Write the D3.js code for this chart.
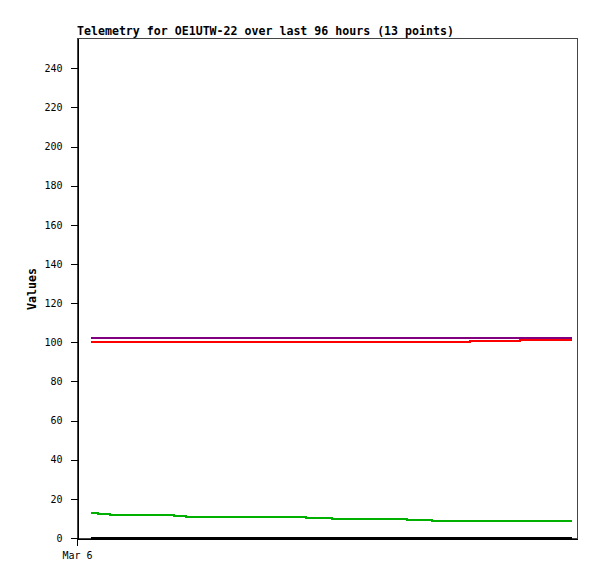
<!DOCTYPE html>
<html>
<head>
<meta charset="utf-8">
<script src="https://cdn.jsdelivr.net/npm/d3@7"></script>
<style>
  body { margin: 0; background: #fff; }
  svg { font-family: "DejaVu Sans Mono", monospace; }
  .axis text { font-size: 10px; fill: #000; font-family: "DejaVu Sans Mono", monospace; }
  .axis line, .axis path { stroke: #000; shape-rendering: crispEdges; }
</style>
</head>
<body>
<svg width="597" height="579"></svg>
<script>
// hours after Mar 6 00:00 for each telemetry point
var hours = [2.7, 4.0, 6.3, 18.6, 20.9, 33.2, 44.0, 49.0, 63.4, 68.2, 75.5, 85.1, 95.0];
var ch1 = [0, 0, 0, 0, 0, 0, 0, 0, 0, 0, 0, 0, 0];
var ch2 = [13.0, 12.3, 11.7, 11.1, 10.6, 10.6, 10.1, 9.6, 9.0, 8.5, 8.5, 8.5, 8.5];
var ch3 = [100.2, 100.2, 100.2, 100.2, 100.2, 100.2, 100.2, 100.2, 100.2, 100.2, 100.8, 101.4, 101.4];
var ch4 = [102.4, 102.4, 102.4, 102.4, 102.4, 102.4, 102.4, 102.4, 102.4, 102.4, 102.4, 102.4, 102.4];
var yTicks = [0, 20, 40, 60, 80, 100, 120, 140, 160, 180, 200, 220, 240];
var seriesColors = ["#000000", "#00b000", "#ff0000", "#800080"];

var start = new Date(2024, 2, 6, 0, 0);
var end = new Date(2024, 2, 10, 0, 0);

var svg = d3.select("svg"),
    margin = {top: 38, right: 20, bottom: 41, left: 77},
    width = 500,
    height = 500,
    g = svg.append("g").attr("transform", "translate(" + margin.left + "," + margin.top + ")");

var x = d3.scaleTime().domain([start, end]).range([0, width]);
var y = d3.scaleLinear().domain([0, 255.5]).range([height, 0]);

var toDate = function (h) { return new Date(start.getTime() + h * 3600 * 1000); };

// frame
g.append("rect")
    .attr("x", 0.5).attr("y", 0.5)
    .attr("width", width).attr("height", height)
    .attr("fill", "none")
    .attr("stroke", "#444")
    .attr("shape-rendering", "crispEdges");

var line = d3.line()
    .curve(d3.curveStepAfter)
    .x(function (d) { return x(toDate(d[0])); })
    .y(function (d) { return y(d[1]); });

g.append("g")
    .attr("class", "axis axis--y")
    .attr("transform", "translate(0.5,0)")
    .call(d3.axisLeft(y).tickValues(yTicks).tickSize(7).tickSizeOuter(0).tickPadding(8))
    .attr("font-family", null);

g.append("g")
    .attr("class", "axis axis--x")
    .attr("transform", "translate(0," + (height + 0.5) + ")")
    .call(d3.axisBottom(x).tickValues([start]).tickSize(7).tickSizeOuter(0).tickPadding(6)
      .tickFormat(d3.timeFormat("%b %-d")))
    .attr("font-family", null);

[ch3, ch4, ch2, ch1].forEach(function (vals) {
  var i = [ch1, ch2, ch3, ch4].indexOf(vals);
  g.append("path")
      .datum(hours.map(function (h, k) { return [h, vals[k]]; }))
      .attr("fill", "none")
      .attr("stroke", seriesColors[i])
      .attr("stroke-width", 2)
      .attr("shape-rendering", "crispEdges")
      .attr("d", line);
});

svg.append("text")
    .attr("x", 77)
    .attr("y", 35)
    .style("font-size", "11.6px")
    .style("font-weight", "bold")
    .text("Telemetry for OE1UTW-22 over last 96 hours (13 points)");

svg.append("text")
    .attr("text-anchor", "middle")
    .attr("transform", "translate(36," + (margin.top + height / 2 + 1) + ") rotate(-90)")
    .style("font-size", "11.6px")
    .style("font-weight", "bold")
    .text("Values");
</script>
</body>
</html>
